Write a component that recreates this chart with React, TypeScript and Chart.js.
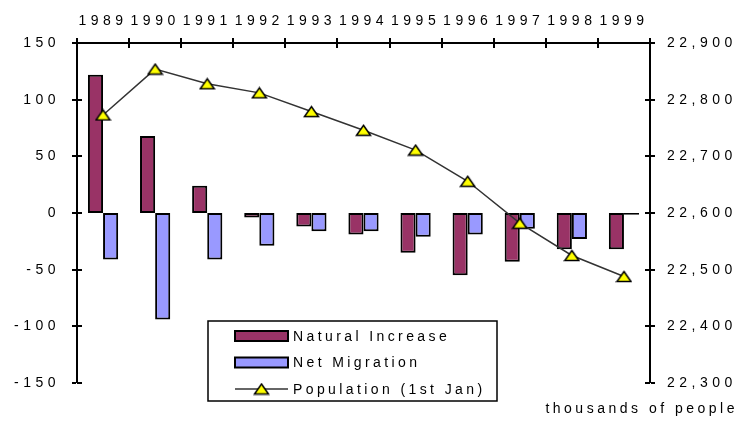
import React, { useEffect, useRef } from 'react';
import { Chart, registerables } from 'chart.js';

Chart.register(...registerables);

// ---- data ----
const years = ['1989', '1990', '1991', '1992', '1993', '1994', '1995', '1996', '1997', '1998', '1999'];
const naturalIncrease = [122, 68, 24, -4, -12, -19, -35, -55, -43, -32, -32];
const netMigration = [-41, -94, -41, -29, -16, -16, -21, -19, -14, -23, -1.5];
const population = [22773, 22854, 22828, 22812, 22779, 22746, 22711, 22656, 22582, 22525, 22488];
const leftAxisRange = [-150, 150, 50];
const rightAxisRange = [22300, 22900, 100];
const seriesLabels = ['Natural Increase', 'Net Migration', 'Population (1st Jan)'];
const unitNote = 'thousands of people';

const FONT = 'Arial, "Liberation Sans", sans-serif';
const NI_COLOR = '#993366';
const NM_COLOR = '#9999FF';

function makeTriangle(): HTMLCanvasElement {
  const c = document.createElement('canvas');
  c.width = 17;
  c.height = 13;
  const g = c.getContext('2d')!;
  g.beginPath();
  g.moveTo(8.5, 1.5);
  g.lineTo(15.5, 11.5);
  g.lineTo(1.5, 11.5);
  g.closePath();
  g.fillStyle = '#FFFF00';
  g.fill();
  g.lineWidth = 1.5;
  g.strokeStyle = '#000';
  g.stroke();
  return c;
}

const spacingPlugin = {
  id: 'spacing',
  beforeLayout(chart: any) {
    chart.ctx.letterSpacing = '4.5px';
  },
  beforeDraw(chart: any) {
    chart.ctx.letterSpacing = '4.5px';
  },
};

const innerTicksPlugin = {
  id: 'innerTicks',
  beforeDatasetsDraw(chart: any) {
    const { ctx, chartArea, scales } = chart;
    const { x, y, y2 } = scales;
    ctx.save();
    ctx.strokeStyle = '#000';
    ctx.lineWidth = 2;
    ctx.beginPath();
    y.ticks.forEach((_t: any, i: number) => {
      const py = Math.round(y.getPixelForTick(i));
      ctx.moveTo(chartArea.left, py);
      ctx.lineTo(chartArea.left + 5, py);
    });
    y2.ticks.forEach((_t: any, i: number) => {
      const py = Math.round(y2.getPixelForTick(i));
      ctx.moveTo(chartArea.right - 5, py);
      ctx.lineTo(chartArea.right, py);
    });
    for (let i = 0; i <= years.length; i++) {
      const px = Math.round(x.getPixelForValue(i - 0.5));
      ctx.moveTo(px, chartArea.top);
      ctx.lineTo(px, chartArea.top + 5);
    }
    ctx.stroke();
    ctx.restore();
  },
};

const boxLegendPlugin = {
  id: 'boxLegend',
  afterDraw(chart: any) {
    const { ctx } = chart;
    const left = 208;
    const top = 321;
    const width = 289;
    const height = 80;
    ctx.save();
    ctx.fillStyle = '#fff';
    ctx.fillRect(left, top, width, height);
    ctx.strokeStyle = '#000';
    ctx.lineWidth = 1.5;
    ctx.strokeRect(left, top, width, height);
    const rows = [336, 362.5, 389];
    const swL = 235;
    const swW = 53;
    ctx.font = `14px ${FONT}`;
    ctx.letterSpacing = '3.4px';
    ctx.textBaseline = 'middle';
    ctx.textAlign = 'left';
    chart.data.datasets.forEach((ds: any, i: number) => {
      const cy = rows[i];
      if (ds.type === 'line') {
        ctx.strokeStyle = ds.borderColor;
        ctx.lineWidth = ds.borderWidth;
        ctx.beginPath();
        ctx.moveTo(swL, cy);
        ctx.lineTo(swL + swW, cy);
        ctx.stroke();
        const img = ds.pointStyle as HTMLCanvasElement;
        ctx.drawImage(img, swL + swW / 2 - img.width / 2, cy - img.height / 2);
      } else {
        ctx.fillStyle = ds.backgroundColor;
        ctx.fillRect(swL, cy - 5, swW, 10);
        ctx.strokeStyle = '#000';
        ctx.lineWidth = 2;
        ctx.strokeRect(swL, cy - 5, swW, 10);
      }
      ctx.fillStyle = '#000';
      ctx.fillText(ds.label, swL + swW + 5, cy + 1);
    });
    ctx.restore();
  },
};

export default function App() {
  const ref = useRef<HTMLCanvasElement>(null);

  useEffect(() => {
    const tri = makeTriangle();
    const tickFont = { family: FONT, size: 14 };
    const axisGrid = {
      drawOnChartArea: false,
      drawTicks: true,
      tickLength: 5,
      color: '#000',
      lineWidth: 0,
      tickColor: '#000',
      tickWidth: 2,
    };
    const chart = new Chart(ref.current!, {
      type: 'bar',
      data: {
        labels: years,
        datasets: [
          {
            type: 'bar',
            label: seriesLabels[0],
            data: naturalIncrease,
            backgroundColor: NI_COLOR,
            borderColor: '#000',
            borderWidth: 2,
            borderSkipped: false,
            inflateAmount: 0,
            yAxisID: 'y',
            order: 1,
            categoryPercentage: 0.58,
            barPercentage: 1.0,
          },
          {
            type: 'bar',
            label: seriesLabels[1],
            data: netMigration,
            backgroundColor: NM_COLOR,
            borderColor: '#000',
            borderWidth: 2,
            borderSkipped: false,
            inflateAmount: 0,
            yAxisID: 'y',
            order: 1,
            categoryPercentage: 0.58,
            barPercentage: 1.0,
          },
          {
            type: 'line',
            label: seriesLabels[2],
            data: population,
            borderColor: '#333333',
            borderWidth: 1.5,
            tension: 0,
            pointStyle: tri,
            pointRadius: 6,
            yAxisID: 'y2',
            order: 0,
          },
        ] as any,
      },
      options: {
        responsive: false,
        animation: false,
        devicePixelRatio: 1,
        layout: { padding: 0 },
        plugins: {
          legend: { display: false },
          tooltip: { enabled: false },
          title: {
            display: true,
            text: unitNote,
            position: 'bottom',
            align: 'end',
            color: '#000',
            font: { family: FONT, size: 14, weight: 'normal' },
            padding: { top: 18.2, bottom: 7 },
          },
        },
        scales: {
          x: {
            position: 'top',
            offset: true,
            grid: { ...axisGrid, offset: true },
            border: { display: true, color: '#000', width: 2 },
            ticks: { color: '#000', font: tickFont, padding: 8, maxRotation: 0, autoSkip: false },
            afterFit: (s: any) => {
              s.height = 43;
            },
          },
          y: {
            position: 'left',
            min: leftAxisRange[0],
            max: leftAxisRange[1],
            grid: axisGrid,
            border: { display: true, color: '#000', width: 2 },
            ticks: { stepSize: leftAxisRange[2], color: '#000', font: tickFont, padding: 12 },
            afterFit: (s: any) => {
              s.width = 77;
            },
          },
          y2: {
            position: 'right',
            min: rightAxisRange[0],
            max: rightAxisRange[1],
            grid: axisGrid,
            border: { display: true, color: '#000', width: 2 },
            ticks: {
              stepSize: rightAxisRange[2],
              color: '#000',
              font: tickFont,
              padding: 12,
              callback: (v: any) => Number(v).toLocaleString('en-US'),
            },
            afterFit: (s: any) => {
              s.width = 92;
            },
          },
        },
      } as any,
      plugins: [spacingPlugin, innerTicksPlugin, boxLegendPlugin],
    });

    // The unit note (chart title) uses a slightly narrower letter spacing.
    const tb = (chart as any).titleBlock;
    if (tb) {
      const origDraw = tb.draw.bind(tb);
      tb.draw = (...args: any[]) => {
        const ctx = chart.ctx as any;
        const prev = ctx.letterSpacing;
        ctx.save();
        ctx.letterSpacing = '3.5px';
        ctx.translate(-4, 0);
        origDraw(...args);
        ctx.restore();
        ctx.letterSpacing = prev;
      };
      chart.update('none');
    }

    return () => chart.destroy();
  }, []);

  return (
    <div style={{ position: 'absolute', left: 0, top: 0, width: 742, height: 425, background: '#fff' }}>
      <canvas ref={ref} width={742} height={425} style={{ display: 'block', width: 742, height: 425 }} />
    </div>
  );
}
